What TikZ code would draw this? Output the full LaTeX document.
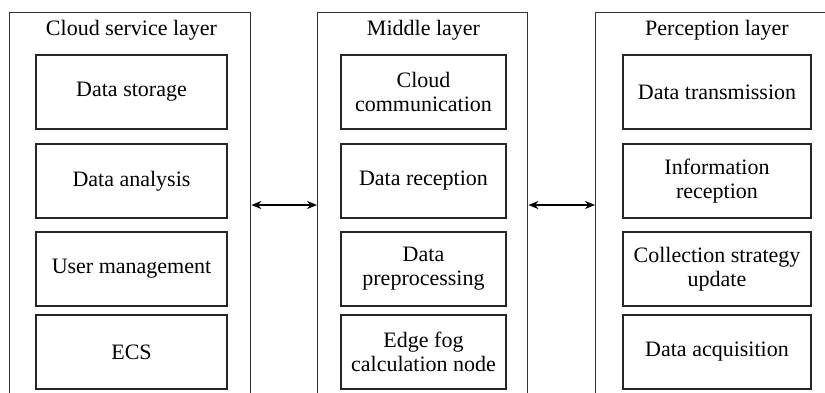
\documentclass[tikz,border=0pt]{standalone}
\usepackage{fontspec}
\setmainfont{Liberation Serif}
\usetikzlibrary{arrows.meta,positioning}

\begin{document}
\begin{tikzpicture}[font=\fontsize{11}{12}\selectfont, >={Stealth[length=5pt,width=4pt]},
  layer/.style={draw=black!80,line width=0.7pt,minimum height=204pt,anchor=north west},
  item/.style={draw=black!85,line width=0.6pt,minimum height=37pt,align=center,inner sep=2pt,outer sep=0pt},
  cloudbox/.style={item,minimum width=95.5pt},
  midbox/.style={item,minimum width=82.5pt},
  percbox/.style={item,minimum width=94pt},
  title/.style={anchor=base}]

  \useasboundingbox (0,0) rectangle (412.5pt,-196pt);
  \clip (0,0) rectangle (412.5pt,-196pt);

  % the three layers (open at the bottom of the page)
  \node[layer,minimum width=120.5pt] (cloud)  at (4.5pt,-6pt)   {};
  \node[layer,minimum width=105pt]   (middle) at (158.5pt,-6pt) {};
  \node[layer,minimum width=130pt]   (perc)   at (297.5pt,-6pt) {};

  \node[title] (cloudtitle) at (65.75pt,-17.5pt)  {Cloud service layer};
  \node[title] (midtitle)   at (211.75pt,-17.5pt) {Middle layer};
  \node[title] (perctitle)  at (358.5pt,-17.5pt)  {Perception layer};

  % cloud service layer
  \node[cloudbox,anchor=north] (c1) at (65.75pt,-27.5pt) {Data storage};
  \node[cloudbox,below=7.5pt of c1] (c2) {Data analysis};
  \node[cloudbox,below=7pt of c2]   (c3) {User management};
  \node[cloudbox,below=4.5pt of c3] (c4) {ECS};

  % middle layer
  \node[midbox,anchor=north] (m1) at (211.75pt,-27.5pt) {Cloud\\communication};
  \node[midbox,below=7.5pt of m1] (m2) {Data reception};
  \node[midbox,below=7pt of m2]   (m3) {Data\\preprocessing};
  \node[midbox,below=4.5pt of m3] (m4) {Edge fog\\calculation node};

  % perception layer
  \node[percbox,anchor=north] (p1) at (358.5pt,-27.5pt) {Data transmission};
  \node[percbox,below=7.5pt of p1] (p2) {Information\\reception};
  \node[percbox,below=7pt of p2]   (p3) {Collection strategy\\update};
  \node[percbox,below=4.5pt of p3] (p4) {Data acquisition};

  % links between the layers
  \coordinate (link) at (0,-102.5pt);
  \draw[<->,line width=0.6pt] (cloud.east |- link) -- (middle.west |- link);
  \draw[<->,line width=0.6pt] (middle.east |- link) -- (perc.west |- link);
\end{tikzpicture}
\end{document}
